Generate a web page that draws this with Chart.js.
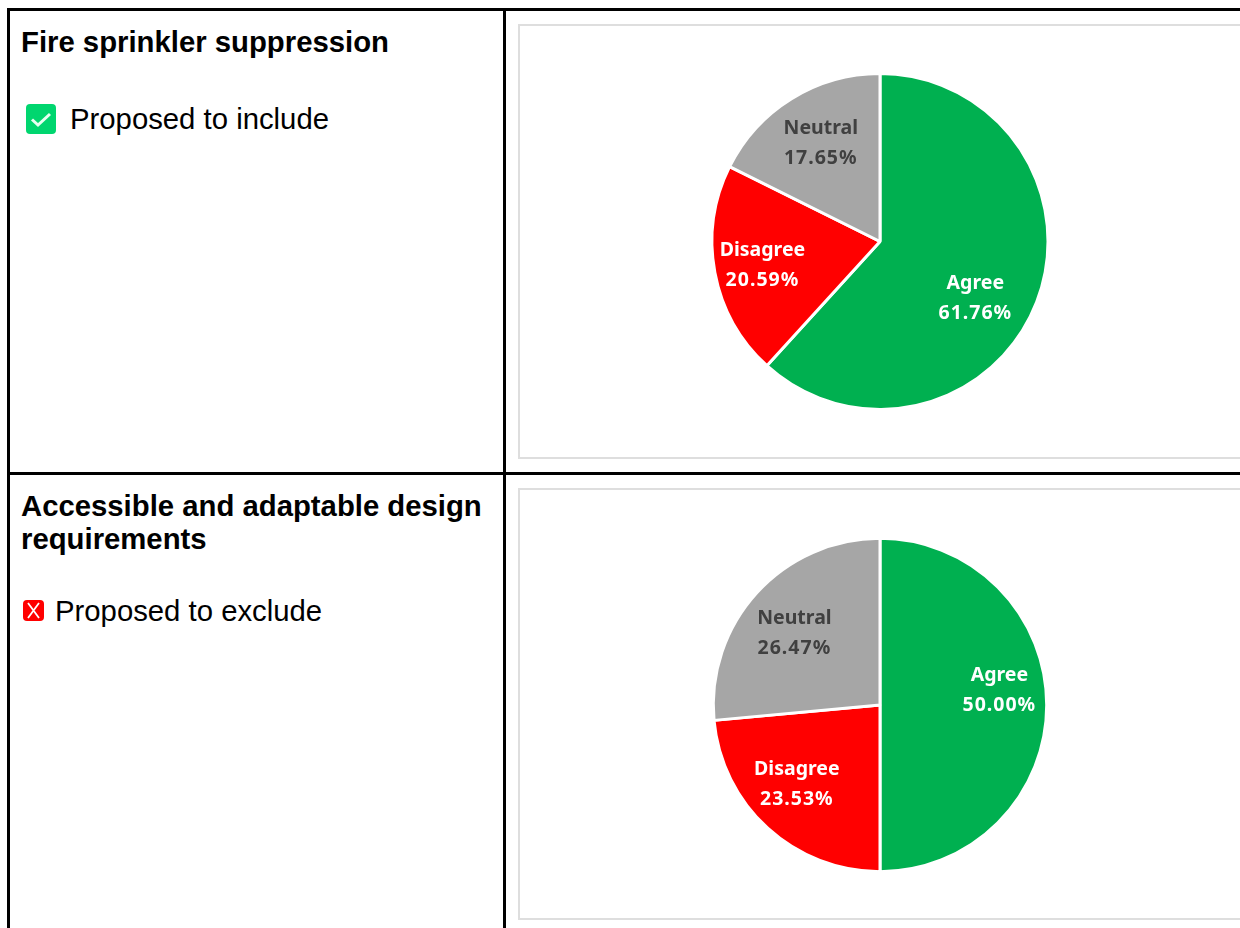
<!DOCTYPE html>
<html>
<head>
  <title>Survey results</title>
  <style>
    html, body { margin: 0; padding: 0; background: #fff; overflow: hidden; }
    body { width: 1240px; height: 928px; position: relative; font-family: "Liberation Sans", Arial, sans-serif; color: #000; }
    .rule { position: absolute; background: #000; }
    .heading { position: absolute; left: 21px; width: 475px; font-size: 29.3px; line-height: 33px; font-weight: bold; }
    .status { position: absolute; font-size: 29.3px; line-height: 33px; white-space: nowrap; }
    .icon { position: absolute; display: block; }
    .frame { position: absolute; left: 518px; width: 730px; border: 2px solid #dedede; box-sizing: border-box; }
    .frame canvas { position: absolute; left: 0; top: 0; }
  </style>
  <script src="https://cdn.jsdelivr.net/npm/chart.js"></script>
</head>
<body>
  <div class="rule" style="left:7px;top:8px;width:1233px;height:3px"></div>
  <div class="rule" style="left:7px;top:472px;width:1233px;height:3px"></div>
  <div class="rule" style="left:7px;top:8px;width:3px;height:920px"></div>
  <div class="rule" style="left:503px;top:8px;width:3px;height:920px"></div>

  <div class="heading" style="top:25px">Fire sprinkler suppression</div>
  <svg class="icon" style="left:26px;top:104px" width="30" height="30" viewBox="0 0 30 30">
    <rect width="30" height="30" rx="4" fill="#00d66f"/>
    <path d="M6 15.5 L12 21 L24 10" fill="none" stroke="#e8fff2" stroke-width="3"/>
  </svg>
  <div class="status" style="left:70px;top:102px">Proposed to include</div>

  <div class="heading" style="top:489px">Accessible and adaptable design requirements</div>
  <svg class="icon" style="left:23px;top:600px" width="21" height="21" viewBox="0 0 21 21">
    <rect width="21" height="21" rx="4" fill="#f00"/>
    <path d="M5 3 L16 18 M16 3 L5 18" fill="none" stroke="#fff" stroke-width="1.8"/>
  </svg>
  <div class="status" style="left:55px;top:594px">Proposed to exclude</div>

  <div class="frame" style="top:24px;height:435px"><canvas id="sprinklerChart"></canvas></div>
  <div class="frame" style="top:488px;height:432px"><canvas id="adaptableChart"></canvas></div>

  <script>
    const categories = ['Agree', 'Disagree', 'Neutral'];
    const sprinklerValues = [61.76, 20.59, 17.65];
    const adaptableValues = [50.00, 23.53, 26.47];
    const sliceColors = ['#00B050', '#FF0000', '#A6A6A6'];
    const labelColors = ['#FFFFFF', '#FFFFFF', '#404040'];

    // nudges from the middle of each slice to where the label sits
    const sprinklerNudge = [[17, 26.5], [-35, 8], [-15, -27]];
    const adaptableNudge = [[36, -15], [-27, 18], [-24, -15]];

    const sliceLabels = {
      id: 'sliceLabels',
      afterDatasetsDraw(chart, args, opts) {
        const ctx = chart.ctx;
        const values = chart.data.datasets[0].data;
        ctx.save();
        ctx.font = '700 19.5px "Noto Sans"';
        ctx.textAlign = 'center';
        ctx.textBaseline = 'middle';
        chart.getDatasetMeta(0).data.forEach((arc, i) => {
          const p = arc.tooltipPosition();
          const x = p.x + opts.nudge[i][0];
          const y = p.y + opts.nudge[i][1];
          ctx.fillStyle = labelColors[i];
          ctx.letterSpacing = '0px';
          ctx.fillText(chart.data.labels[i], x, y - 15);
          // the percentages run a bit wider than the names in the original
          ctx.letterSpacing = '1px';
          ctx.fillText(values[i].toFixed(2) + '%', x, y + 15);
        });
        ctx.restore();
      }
    };

    function drawPie(id, values, nudge, radius, topPad) {
      const canvas = document.getElementById(id);
      const frame = canvas.parentElement;
      canvas.width = 720;
      canvas.height = frame.clientHeight;
      canvas.style.width = '720px';
      canvas.style.height = frame.clientHeight + 'px';
      return new Chart(canvas.getContext('2d'), {
        type: 'pie',
        data: {
          labels: categories,
          datasets: [{
            data: values,
            backgroundColor: sliceColors,
            borderColor: '#fff',
            borderWidth: 3
          }]
        },
        options: {
          responsive: false,
          animation: false,
          radius: radius,
          layout: { padding: { top: topPad } },
          plugins: {
            legend: { display: false },
            tooltip: { enabled: false },
            sliceLabels: { nudge: nudge }
          }
        },
        plugins: [sliceLabels]
      });
    }

    drawPie('sprinklerChart', sprinklerValues, sprinklerNudge, 168, 0);
    drawPie('adaptableChart', adaptableValues, adaptableNudge, 166.7, 2);
  </script>
</body>
</html>
